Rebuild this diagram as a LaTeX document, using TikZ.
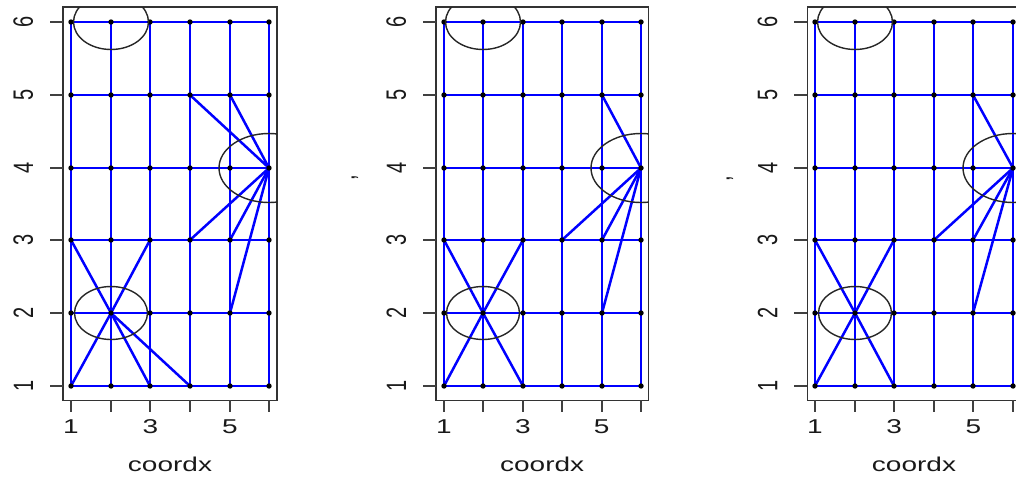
\documentclass[tikz,border=0pt]{standalone}
\usepackage{fontspec}
\setmainfont{Liberation Sans}
\definecolor{rblue}{RGB}{0,0,255}
\tikzset{
  link/.style={draw=rblue, line width=2.5pt},
  dot/.style={fill=black},
  frame/.style={draw=black!80, line width=1.3pt},
  tickmark/.style={draw=black!75, line width=1.2pt},
  ring/.style={draw=black!85, line width=1.4pt},
  lab/.style={inner sep=0pt, font=\fontsize{20}{24}\selectfont, text=black!90},
}
\newcommand{\sx}[1]{\scalebox{1.4}[1]{#1}}
\newcommand{\rx}[1]{\scalebox{1.4}[1]{\rotatebox{90}{#1}}}
\begin{document}
\begin{tikzpicture}[x=1pt,y=-1pt]
\useasboundingbox (0,0) rectangle (1016,479);
% grid coordinates (rounded to whole pixels)
\foreach \p/\xa/\dx in {1/71/39.7, 2/444/39.4, 3/815/39.6} {
  \foreach \i in {1,...,6} {
    \foreach \j in {1,...,6} {
      \coordinate (p\p-\i-\j) at ({round(\xa+(\i-1)*\dx)},{round(386-(\j-1)*72.8)});
    }
  }
}
% frames, ticks, tick labels, axis titles
\foreach \p/\bl/\br/\xa/\dx in {1/63/277/71/39.7, 2/436/648.3/444/39.4, 3/807.3/1020.7/815/39.6} {
  \coordinate (bl\p) at (\bl,7);
  \coordinate (br\p) at (\br,400.3);
  \draw[frame] (bl\p) rectangle (br\p);
  \foreach \j in {1,...,6} {
    \coordinate (ya\p-\j) at ({\bl-13},{round(386-(\j-1)*72.8)});
    \coordinate (yb\p-\j) at (\bl,{round(386-(\j-1)*72.8)});
    \draw[tickmark] (ya\p-\j) -- (yb\p-\j);
    \node[lab, anchor=east] (yl\p-\j) at ({\bl-29.7},{386-(\j-1)*72.8}) {\rx{\j}};
    \coordinate (xa\p-\j) at ({round(\xa+(\j-1)*\dx)},400.3);
    \coordinate (xb\p-\j) at ({round(\xa+(\j-1)*\dx)},411.7);
    \draw[tickmark] (xa\p-\j) -- (xb\p-\j);
  }
  \foreach \k in {1,3,5} {
    \node[lab, anchor=base] (xl\p-\k) at ({\xa+(\k-1)*\dx},433.3) {\sx{\k}};
  }
  \node[lab, anchor=base] (xt\p) at ({(\bl+\br)/2},471.7) {\sx{coordx}};
}
\node[lab] (ylab2) at (355,178) {\rx{,}};
\node[lab] (ylab3) at (730,179) {\rx{,}};
% grid edges
\foreach \p in {1,2,3} {
  \foreach \i in {1,2,3,4,5,6} {
    \foreach \j/\jj in {1/2,2/3,3/4,4/5,5/6} {
      \draw[link] (p\p-\i-\j) -- (p\p-\i-\jj);
      \draw[link] (p\p-\j-\i) -- (p\p-\jj-\i);
    }
  }
}
% extra edges
\foreach \a/\b in {2-2/1-3, 2-2/3-3, 2-2/1-1, 2-2/3-1, 2-2/4-1, 6-4/4-5, 6-4/5-5, 6-4/4-3, 6-4/5-3, 6-4/5-2} {
  \draw[link] (p1-\a) -- (p1-\b);
}
\foreach \p in {2,3} {
  \foreach \a/\b in {2-2/1-3, 2-2/3-3, 2-2/1-1, 2-2/3-1, 6-4/5-5, 6-4/4-3, 6-4/5-3, 6-4/5-2} {
    \draw[link] (p\p-\a) -- (p\p-\b);
  }
}
% dots
\foreach \p in {1,2,3} {
  \foreach \i in {1,...,6} {
    \foreach \j in {1,...,6} {
      \fill[dot] (p\p-\i-\j) circle (2.7);
    }
  }
}
% circles, clipped to plot region
\foreach \p in {1,2,3} {
  \begin{scope}
    \clip (bl\p) rectangle (br\p);
    \draw[ring] (p\p-2-6) ellipse [x radius=37.5, y radius=27.5];
    \draw[ring] (p\p-2-2) ellipse [x radius=36.5, y radius=26.5];
    \draw[ring] (p\p-6-4) ellipse [x radius=50, y radius=34.5];
  \end{scope}
}
\end{tikzpicture}
\end{document}
